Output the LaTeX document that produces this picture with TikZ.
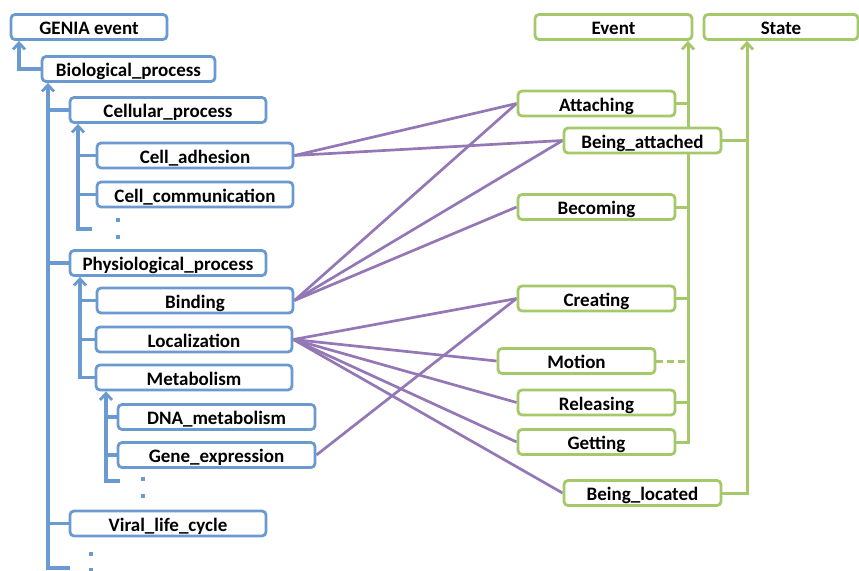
\documentclass[tikz,border=0pt]{standalone}
\usepackage{fontspec}
\setmainfont{Carlito}
\usetikzlibrary{arrows.meta,backgrounds}
\definecolor{cblue}{RGB}{106,154,208}
\definecolor{cgreen}{RGB}{165,200,106}
\definecolor{cpurple}{RGB}{148,119,181}
\tikzset{
  box/.style={draw, fill=white, rounded corners=4pt, line width=2.8pt, inner sep=0pt,
    minimum height=25pt, text height=16pt, text depth=0.8pt,
    font=\fontsize{19}{22}\selectfont\bfseries},
  bbox/.style={box, draw=cblue},
  gbox/.style={box, draw=cgreen},
  bl/.style={draw=cblue, line width=3.4pt},
  gl/.style={draw=cgreen, line width=3pt},
  pl/.style={draw=cpurple, line width=2.7pt},
  tip/.style={-{Straight Barb[length=6.5pt,width=12pt,line width=2.8pt]}},
  dot/.style={fill=cblue, minimum size=4.5pt, inner sep=0pt, draw=none}
}
\begin{document}
\begin{tikzpicture}[x=1pt,y=-1pt]
\useasboundingbox (0,0) rectangle (859,570);
% left tree
\node[bbox, minimum width=156pt] (genia) at (89,27) {GENIA event};
\node[bbox, minimum width=173pt] (bio) at (128.5,69) {Biological\_process};
\node[bbox, minimum width=196pt] (cell) at (168,110) {Cellular\_process};
\node[bbox, minimum width=196pt] (adh) at (195,155.5) {Cell\_adhesion};
\node[bbox, minimum width=196pt] (comm) at (195,194.5) {Cell\_communication};
\node[bbox, minimum width=196pt] (phys) at (168,263) {Physiological\_process};
\node[bbox, minimum width=196pt] (bind) at (195,300.5) {Binding};
\node[bbox, minimum width=196pt] (loc) at (194,339.5) {Localization};
\node[bbox, minimum width=196pt] (metab) at (194,377.5) {Metabolism};
\node[bbox, minimum width=197pt] (dna) at (216.5,417) {DNA\_metabolism};
\node[bbox, minimum width=197pt] (gene) at (216.5,455) {Gene\_expression};
\node[bbox, minimum width=196pt] (viral) at (168,523.5) {Viral\_life\_cycle};
% dots
\node[dot] (d1) at (118,220) {};
\node[dot] (d2) at (118,237) {};
\node[dot] (d3) at (143,479) {};
\node[dot] (d4) at (143,496) {};
\node[dot] (d5) at (91,554) {};
\node[dot] (d6) at (91,570) {};
% right side
\node[gbox, minimum width=157pt] (event) at (613.5,27) {Event};
\node[gbox, minimum width=154pt] (state) at (781,27) {State};
\node[gbox, minimum width=157pt] (attach) at (596.5,103.5) {Attaching};
\node[gbox, minimum width=157pt] (battach) at (642.5,140.5) {Being\_attached};
\node[gbox, minimum width=157pt] (become) at (596.5,207) {Becoming};
\node[gbox, minimum width=157pt] (create) at (596.5,298.5) {Creating};
\node[gbox, minimum width=157pt] (motion) at (576.5,361) {Motion};
\node[gbox, minimum width=157pt] (release) at (596.5,402.5) {Releasing};
\node[gbox, minimum width=157pt] (get) at (596.5,442) {Getting};
\node[gbox, minimum width=157pt] (bloc) at (642.5,493) {Being\_located};
% trunk coordinates
\coordinate (t0) at (19,0);
\coordinate (t1) at (48,0);
\coordinate (t2) at (78,0);
\coordinate (t3) at (80,0);
\coordinate (t4) at (106,0);
\coordinate (te) at (688,0);
\coordinate (ts) at (747,0);
\coordinate (e2) at (92,229);
\coordinate (e4) at (120,481);
\coordinate (e1) at (70,568);
\begin{pgfonlayer}{background}
% blue tree
\draw[bl, tip] (bio.west) -| (t0 |- genia.south);
\draw[bl, tip] (e1) -- (t1 |- e1) -- (t1 |- bio.south);
\draw[bl] (cell.west) -- (t1 |- cell.west);
\draw[bl] (phys.west) -- (t1 |- phys.west);
\draw[bl] (viral.west) -- (t1 |- viral.west);
\draw[bl, tip] (e2) -- (t2 |- e2) -- (t2 |- cell.south);
\draw[bl] (adh.west) -- (t2 |- adh.west);
\draw[bl] (comm.west) -- (t2 |- comm.west);
\draw[bl, tip] (metab.west) -- (t3 |- metab.west) -- (t3 |- phys.south);
\draw[bl] (bind.west) -- (t3 |- bind.west);
\draw[bl] (loc.west) -- (t3 |- loc.west);
\draw[bl, tip] (e4) -- (t4 |- e4) -- (t4 |- metab.south);
\draw[bl] (dna.west) -- (t4 |- dna.west);
\draw[bl] (gene.west) -- (t4 |- gene.west);
% green tree
\draw[gl, tip] (get.east) -- (te |- get.east) -- (te |- event.south);
\draw[gl] (attach.east) -- (te |- attach.east);
\draw[gl] (become.east) -- (te |- become.east);
\draw[gl] (create.east) -- (te |- create.east);
\draw[gl] (release.east) -- (te |- release.east);
\draw[gl, dash pattern=on 7pt off 4pt] (motion.east) -- (te |- motion.east);
\draw[gl, tip] (bloc.east) -- (ts |- bloc.east) -- (ts |- state.south);
\draw[gl] (battach.east) -- (ts |- battach.east);
% purple links
\draw[pl] (adh.east) -- (attach.west);
\draw[pl] (adh.east) -- (battach.west);
\draw[pl] (bind.east) -- (attach.west);
\draw[pl] (bind.east) -- (battach.west);
\draw[pl] (bind.east) -- (become.west);
\draw[pl] (loc.east) -- (create.west);
\draw[pl] (loc.east) -- (motion.west);
\draw[pl] (loc.east) -- (release.west);
\draw[pl] (loc.east) -- (get.west);
\draw[pl] (loc.east) -- (bloc.west);
\draw[pl] (gene.east) -- (create.west);
\end{pgfonlayer}
\end{tikzpicture}
\end{document}
